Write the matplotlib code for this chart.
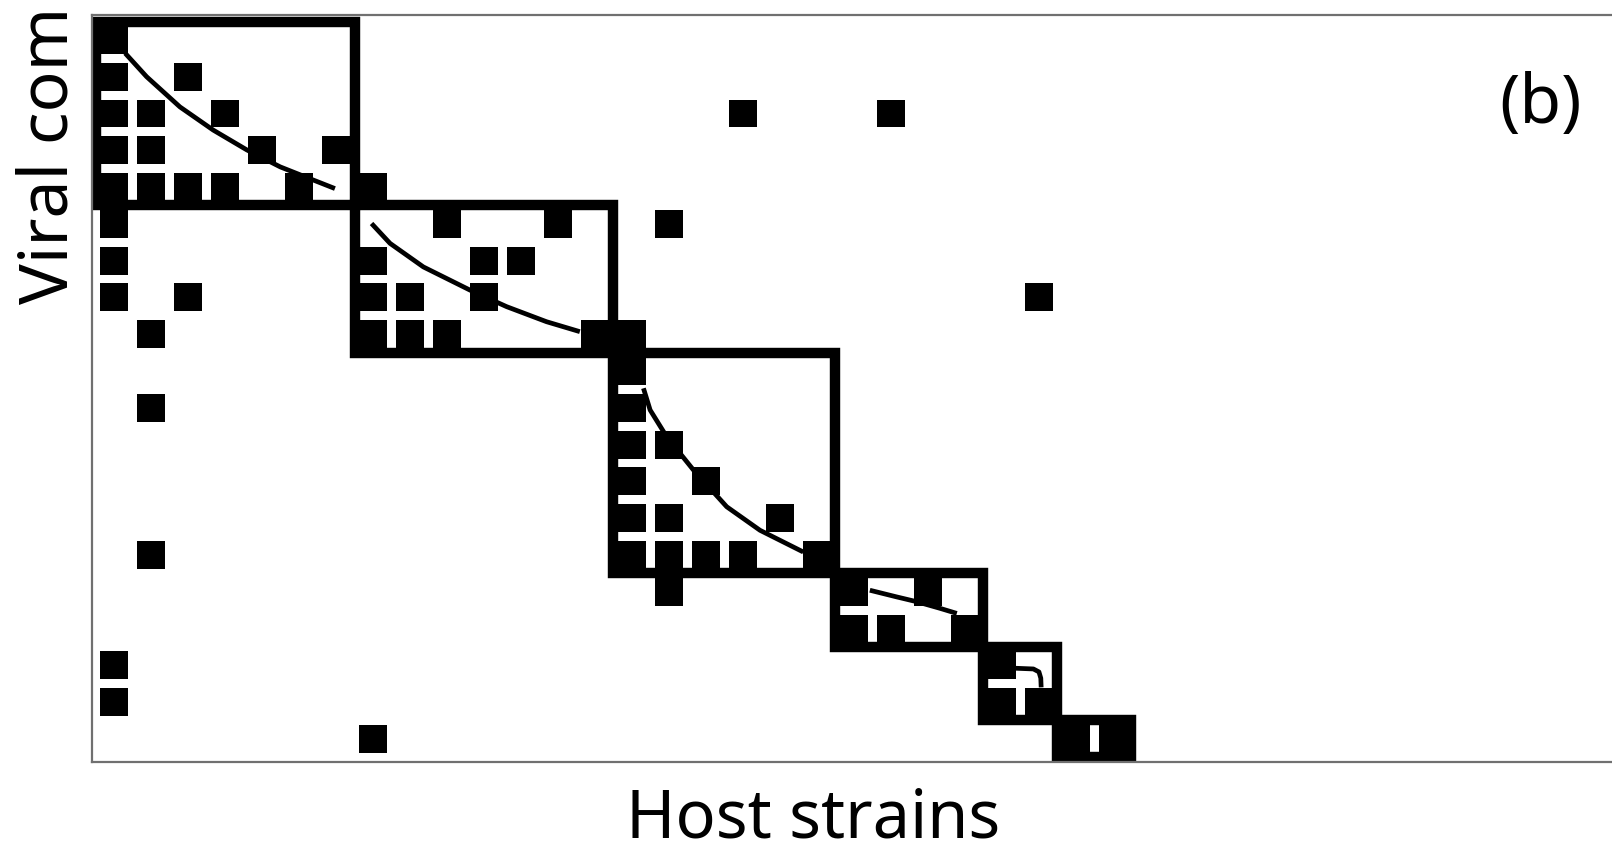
import numpy as np
import matplotlib.pyplot as plt
from matplotlib.patches import Rectangle

'''
宿主-病毒感染矩阵：行为病毒群落，列为宿主菌株
黑色方块表示发生感染，粗框为模块，框内曲线为嵌套等值线
'''

#每一行(病毒)感染的宿主列号
cells_by_row = [
    [0],
    [0, 2],
    [0, 1, 3, 17, 21],
    [0, 1, 4, 6],
    [0, 1, 2, 3, 5, 7],
    [0, 9, 12, 15],
    [0, 7, 10, 11],
    [0, 2, 7, 8, 10, 25],
    [1, 7, 8, 9, 13, 14],
    [14],
    [1, 14],
    [14, 15],
    [14, 16],
    [14, 15, 18],
    [1, 14, 15, 16, 17, 19],
    [15, 20, 22],
    [20, 21, 23],
    [0, 24],
    [0, 24, 25],
    [7, 26, 27],
]

#模块范围(列起止、行起止)
module_col_start = [0, 7, 14, 20, 24, 26]
module_col_end = [7, 14, 20, 24, 26, 28]
module_row_start = [0, 5, 9, 15, 17, 19]
module_row_end = [5, 9, 15, 17, 19, 20]

#各模块内的嵌套等值线
curve_x = [
    [0.80, 1.38, 2.28, 3.18, 4.09, 4.99, 5.89, 6.47],
    [7.46, 7.96, 8.86, 10.12, 11.11, 12.19, 13.09],
    [14.81, 14.99, 15.44, 16.16, 17.06, 17.96, 19.13],
    [20.93, 21.65, 22.19, 22.82, 23.28],
    [24.85, 25.35, 25.50, 25.55, 25.56],
]
curve_y = [
    [0.86, 1.50, 2.32, 2.95, 3.49, 3.95, 4.31, 4.54],
    [5.49, 6.03, 6.67, 7.30, 7.75, 8.16, 8.43],
    [9.97, 10.56, 11.29, 12.19, 13.19, 13.83, 14.42],
    [15.46, 15.64, 15.77, 15.95, 16.09],
    [17.58, 17.60, 17.68, 17.85, 18.10],
]

n_rows = len(cells_by_row)

plt.rcParams['font.family'] = ['Noto Sans', 'DejaVu Sans']


def draw_matrix(ax):
    #画感染方块
    size = 0.76
    pad = (1 - size) / 2
    for r, cols in enumerate(cells_by_row):
        for c in cols:
            ax.add_patch(Rectangle((c + pad, r + pad), size, size,
                                   facecolor='black', edgecolor='none'))


def draw_modules(ax):
    #画模块粗框
    for c0, c1, r0, r1 in zip(module_col_start, module_col_end,
                              module_row_start, module_row_end):
        ax.add_patch(Rectangle((c0, r0), c1 - c0, r1 - r0, fill=False,
                               edgecolor='black', linewidth=7.5,
                               joinstyle='miter'))
    #画等值线
    for xs, ys in zip(curve_x, curve_y):
        ax.plot(xs, ys, color='black', linewidth=3.4,
                solid_capstyle='butt', solid_joinstyle='round')


def main():
    fig = plt.figure(figsize=(16.12, 8.5), dpi=100)
    ax = fig.add_axes([0.0571, 0.1035, 0.9429, 0.8788])
    draw_matrix(ax)
    draw_modules(ax)

    ax.set_xlim(-0.095, 40.99)
    ax.set_ylim(n_rows + 0.13, -0.177)
    ax.set_xticks([])
    ax.set_yticks([])
    for side in ['left', 'top', 'bottom']:
        ax.spines[side].set_color('#707070')
        ax.spines[side].set_linewidth(1.6)
    ax.spines['right'].set_visible(False)

    fig.text(813 / 1612, 1 - 837 / 850, 'Host strains', fontsize=48,
             ha='center', va='baseline')
    fig.text(67 / 1612, 1 - 304 / 850, 'Viral com', fontsize=49,
             rotation=90, rotation_mode='anchor', ha='left', va='baseline')
    fig.text(1540 / 1612, 1 - 123 / 850, '(b)', fontsize=49,
             ha='center', va='baseline')

    fig.savefig('out.png', dpi=100)


if __name__ == '__main__':
    main()
